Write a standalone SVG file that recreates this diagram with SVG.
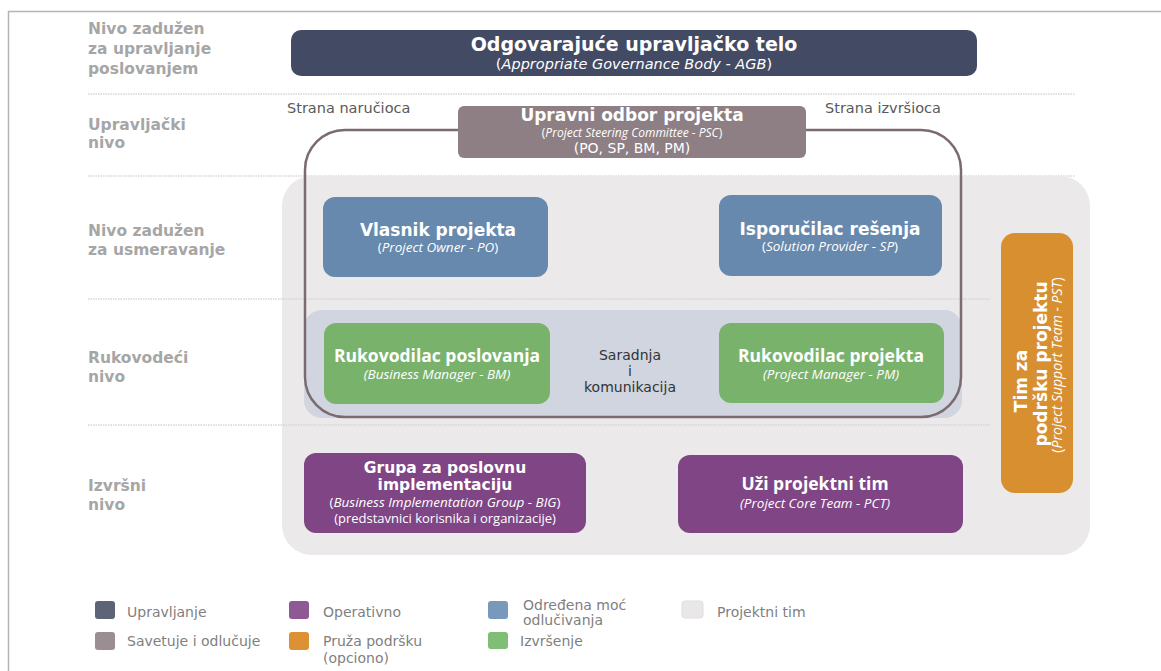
<svg xmlns="http://www.w3.org/2000/svg" width="1161" height="671" viewBox="0 0 1161 671">
<style>
.lvl{font-family:"DejaVu Sans",Verdana,sans-serif;font-weight:bold;font-size:15.5px;fill:#a6a6a6}
.sep{stroke:#d6d6d6;stroke-width:1.5;stroke-dasharray:1.5 1}
.tb{font-family:"DejaVu Sans",Verdana,sans-serif;font-weight:bold;fill:#fff;text-anchor:middle}
.tn{font-family:"Open Sans","Noto Sans",sans-serif;font-weight:bold;fill:#fff;text-anchor:middle}
.ts{font-family:"Open Sans","Noto Sans",sans-serif;fill:#fff;text-anchor:middle}
.it{font-style:italic}
.side{font-family:"DejaVu Sans",Verdana,sans-serif;font-size:14.5px;fill:#595959}
.leg{font-family:"DejaVu Sans",Verdana,sans-serif;font-size:14px;fill:#7f7f7f}
</style>
<rect x="0" y="0" width="1161" height="671" fill="#fff"/>
<g id="frame">
<line x1="8" y1="11.5" x2="1161" y2="11.5" stroke="#b4b4b4" stroke-width="1.5"/>
<line x1="8.5" y1="11" x2="8.5" y2="671" stroke="#b4b4b4" stroke-width="1.5"/>
</g>
<g id="levels">
<line class="sep" x1="88" y1="94" x2="1075" y2="94"/>
<line class="sep" x1="88" y1="176" x2="1075" y2="176"/>
<text class="lvl" x="88" y="34">Nivo zadužen</text>
<text class="lvl" x="88" y="54">za upravljanje</text>
<text class="lvl" x="88" y="74">poslovanjem</text>
<text class="lvl" x="88" y="130">Upravljački</text>
<text class="lvl" x="88" y="148">nivo</text>
<text class="lvl" x="88" y="236">Nivo zadužen</text>
<text class="lvl" x="88" y="255">za usmeravanje</text>
<text class="lvl" x="88" y="363">Rukovodeći</text>
<text class="lvl" x="88" y="382">nivo</text>
<text class="lvl" x="88" y="491">Izvršni</text>
<text class="lvl" x="88" y="510">nivo</text>
</g>
<g id="project-team-area">
<rect x="282" y="176" width="808" height="379" rx="30" fill="#ebe9ea"/>
<line class="sep" x1="88" y1="299" x2="990" y2="299"/>
<line class="sep" x1="88" y1="425" x2="990" y2="425"/>
</g>
<g id="management-band">
<rect x="304" y="310" width="658" height="108" rx="18" fill="#d0d5df"/>
<text x="630" y="360" font-family="DejaVu Sans,Verdana,sans-serif" font-size="14" fill="#333" text-anchor="middle">Saradnja</text>
<text x="630" y="376" font-family="DejaVu Sans,Verdana,sans-serif" font-size="14" fill="#333" text-anchor="middle">i</text>
<text x="630" y="392" font-family="DejaVu Sans,Verdana,sans-serif" font-size="14" fill="#333" text-anchor="middle">komunikacija</text>
</g>
<g id="connectors">
<rect x="305" y="130" width="656" height="287" rx="40" fill="none" stroke="#7b6b71" stroke-width="2.5"/>
</g>
<g id="agb">
<rect x="291" y="30" width="686" height="46" rx="10" fill="#434a63"/>
<text class="tb" x="634" y="51" font-size="19">Odgovarajuće upravljačko telo</text>
<text x="634" y="69" font-family="DejaVu Sans,Verdana,sans-serif" font-size="14.5" fill="#fff" text-anchor="middle">(<tspan class="it">Appropriate Governance Body - AGB</tspan>)</text>
</g>
<g id="side-labels">
<text class="side" x="287" y="113">Strana naručioca</text>
<text class="side" x="825" y="113">Strana izvršioca</text>
</g>
<g id="psc">
<rect x="458" y="106" width="348" height="52" rx="6" fill="#8e7f84"/>
<text class="tb" x="632" y="121" font-size="17">Upravni odbor projekta</text>
<text class="ts" x="632" y="137" font-size="12">(<tspan class="it">Project Steering Committee - PSC</tspan>)</text>
<text x="632" y="153" font-family="DejaVu Sans,Verdana,sans-serif" font-size="14" fill="#fff" text-anchor="middle">(PO, SP, BM, PM)</text>
</g>
<g id="po">
<rect x="323" y="197" width="225" height="80" rx="12" fill="#6689ad"/>
<text class="tb" x="438" y="236" font-size="17">Vlasnik projekta</text>
<text class="ts" x="438" y="252" font-size="13.5">(<tspan class="it">Project Owner - PO</tspan>)</text>
</g>
<g id="sp">
<rect x="719" y="195" width="223" height="81" rx="12" fill="#6689ad"/>
<text class="tb" x="830" y="235" font-size="17">Isporučilac rešenja</text>
<text class="ts" x="830" y="251" font-size="13.5">(<tspan class="it">Solution Provider - SP</tspan>)</text>
</g>
<g id="bm">
<rect x="324" y="323" width="226" height="81" rx="12" fill="#79b36b"/>
<text class="tn" x="437" y="362" font-size="17.5">Rukovodilac poslovanja</text>
<text class="ts it" x="437" y="379" font-size="13.5">(Business Manager - BM)</text>
</g>
<g id="pm">
<rect x="719" y="323" width="225" height="80" rx="12" fill="#79b36b"/>
<text class="tn" x="831" y="362" font-size="17.5">Rukovodilac projekta</text>
<text class="ts it" x="831" y="379" font-size="13.5">(Project Manager - PM)</text>
</g>
<g id="pst">
<rect x="1001" y="233" width="72" height="260" rx="14" fill="#d88f2f"/>
<text class="tb" transform="translate(1027,381) rotate(-90)" font-size="17">Tim za</text>
<text class="tb" transform="translate(1047,364) rotate(-90)" font-size="17">podršku projektu</text>
<text class="ts" transform="translate(1062,365) rotate(-90)" font-size="14">(<tspan class="it">Project Support Team - PST</tspan>)</text>
</g>
<g id="big">
<rect x="304" y="453" width="282" height="80" rx="12" fill="#804585"/>
<text class="tb" x="445" y="473" font-size="15.5">Grupa za poslovnu</text>
<text class="tb" x="445" y="490" font-size="15.5">implementaciju</text>
<text class="ts" x="445" y="507" font-size="13.5">(<tspan class="it">Business Implementation Group - BIG</tspan>)</text>
<text class="ts" x="445" y="523" font-size="13">(predstavnici korisnika i organizacije)</text>
</g>
<g id="pct">
<rect x="678" y="455" width="285" height="78" rx="12" fill="#804585"/>
<text class="tn" x="815" y="490" font-size="17.5">Uži projektni tim</text>
<text class="ts it" x="815" y="508" font-size="13.5">(Project Core Team - PCT)</text>
</g>
<g id="legend">
<rect x="95" y="601" width="20" height="18" rx="3" fill="#5e6477"/>
<text class="leg" x="127" y="617">Upravljanje</text>
<rect x="95" y="632" width="20" height="18" rx="3" fill="#9b8e92"/>
<text class="leg" x="127" y="646">Savetuje i odlučuje</text>
<rect x="289" y="601" width="20" height="18" rx="3" fill="#8e5a94"/>
<text class="leg" x="323" y="617">Operativno</text>
<rect x="289" y="632" width="20" height="18" rx="3" fill="#dc9234"/>
<text class="leg" x="323" y="646">Pruža podršku</text>
<text class="leg" x="323" y="663">(opciono)</text>
<rect x="488" y="601" width="20" height="18" rx="3" fill="#7899bb"/>
<text class="leg" x="523" y="610">Određena moć</text>
<text class="leg" x="523" y="625">odlučivanja</text>
<rect x="488" y="632" width="20" height="17" rx="3" fill="#7fbe74"/>
<text class="leg" x="520" y="646">Izvršenje</text>
<rect x="682" y="601" width="21" height="17" rx="3" fill="#e9e7e8" stroke="#e0dede"/>
<text class="leg" x="717" y="617">Projektni tim</text>
</g>
</svg>
